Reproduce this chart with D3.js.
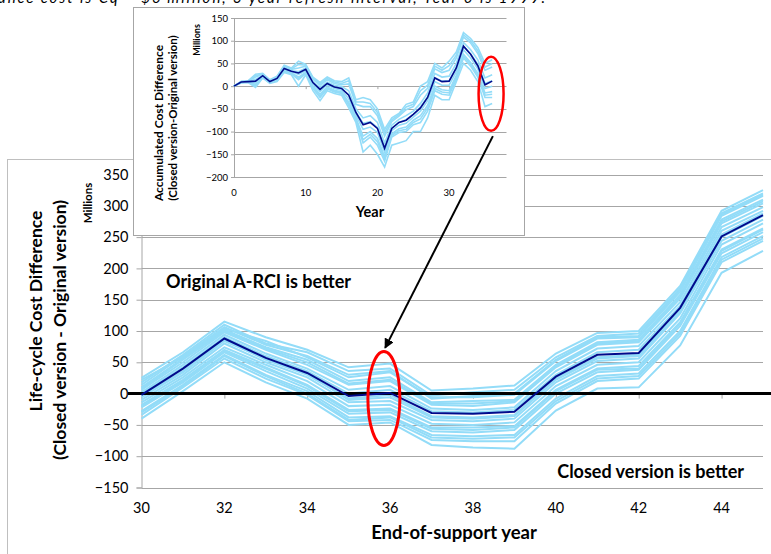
<!DOCTYPE html>
<html><head><meta charset="utf-8">
<script src="https://cdn.jsdelivr.net/npm/d3@7"></script>
<style>body{margin:0;background:#fff}svg{display:block}text{font-family:Lato,"Open Sans",sans-serif}</style>
</head><body>
<svg id="c" width="771" height="554"></svg>
<script>
// ---------- DATA ----------
const mainYears = d3.range(30, 46);
const mainTicksX = [30, 32, 34, 36, 38, 40, 42, 44];
const mainTicksY = [-150, -100, -50, 0, 50, 100, 150, 200, 250, 300, 350];
const mainMean = [-2, 40, 88, 57, 33, -4, 1, -31, -32, -29, 27, 62, 65, 137, 251, 285];
const mainSims = [
  [25, 66, 115, 90, 70, 42, 48, 5, 8, 13, 64, 97, 100, 172, 292, 325],
  [18, 62, 110, 80, 66, 36, 40, -3, 2, 6, 58, 92, 96, 168, 288, 320],
  [14, 60, 106, 78, 60, 30, 36, -8, -4, 0, 54, 90, 92, 166, 286, 318],
  [22, 58, 104, 84, 58, 26, 34, -6, -6, -2, 52, 88, 90, 163, 284, 316],
  [10, 56, 102, 74, 54, 20, 26, -14, -12, -10, 46, 82, 86, 158, 278, 310],
  [8, 54, 100, 72, 50, 16, 22, -16, -16, -12, 44, 80, 84, 155, 275, 307],
  [6, 50, 98, 70, 46, 14, 20, -18, -20, -14, 42, 78, 82, 152, 272, 304],
  [2, 46, 94, 64, 40, 6, 12, -24, -26, -22, 36, 72, 76, 146, 266, 298],
  [0, 42, 90, 60, 36, 0, 6, -28, -30, -26, 30, 66, 70, 140, 260, 292],
  [-4, 36, 86, 54, 30, -8, -2, -36, -38, -34, 24, 58, 62, 134, 254, 288],
  [-6, 34, 84, 56, 32, -10, -6, -38, -40, -36, 22, 56, 60, 130, 250, 284],
  [-10, 30, 80, 50, 26, -14, -12, -42, -44, -40, 18, 52, 56, 128, 244, 278],
  [-14, 26, 74, 46, 20, -20, -18, -48, -50, -46, 12, 46, 50, 120, 238, 272],
  [-18, 22, 70, 42, 14, -26, -24, -54, -54, -52, 6, 40, 44, 114, 230, 264],
  [-20, 20, 68, 40, 12, -28, -26, -56, -58, -54, 4, 38, 40, 112, 228, 262],
  [-22, 18, 66, 36, 8, -32, -30, -60, -62, -58, 0, 34, 38, 108, 224, 258],
  [-28, 14, 62, 30, 4, -38, -36, -66, -68, -66, -8, 28, 32, 100, 218, 252],
  [-30, 12, 60, 28, 0, -42, -38, -70, -72, -70, -12, 24, 28, 96, 214, 248],
  [-34, 10, 56, 24, -2, -44, -42, -74, -76, -76, -16, 20, 24, 92, 210, 244],
  [-40, 4, 50, 18, -8, -50, -46, -82, -86, -88, -27, 8, 10, 77, 193, 228]
];
const insetYears = d3.range(0, 37);
const insetTicksX = [0, 10, 20, 30];
const insetTicksY = [-200, -150, -100, -50, 0, 50, 100, 150];
const insetMean = [0, 9, 10, 11, 23, 10, 17, 39, 33, 29, 37, 8, -7, 6, -2, -5, -20, -58, -85, -80, -93, -137, -93, -80, -75, -62, -48, -25, 18, 10, 11, 40, 88, 70, 45, 3, 11];
const insetSims = [
  [0, 10, 12, 26, 28, 14, 22, 46, 40, 55, 48, 20, 8, 20, 12, 10, 18, -30, -25, -30, -50, -95, -70, -60, -40, -35, 0, 10, 50, 40, 55, 75, 118, 105, 85, 50, 58],
  [0, 10, 11, 23, 27, 13, 21, 44, 38, 48, 46, 18, 5, 17, 9, 6, 12, -35, -35, -38, -58, -102, -74, -63, -46, -40, -10, 2, 44, 35, 45, 68, 113, 100, 78, 42, 50],
  [0, 10, 11, 20, 26, 12, 20, 43, 37, 40, 44, 15, 2, 14, 6, 3, 5, -40, -45, -45, -65, -110, -78, -66, -52, -45, -20, -5, 38, 30, 35, 62, 108, 95, 72, 35, 42],
  [0, 9, 10, 15, 24, 11, 18, 40, 34, 32, 40, 10, -3, 9, 2, -1, -10, -50, -70, -65, -80, -125, -86, -73, -65, -55, -38, -15, 28, 20, 22, 50, 96, 80, 58, 18, 25],
  [0, 9, 10, 12, 23, 10, 17, 39, 33, 29, 37, 7, -8, 6, -2, -5, -19, -57, -82, -78, -91, -135, -92, -80, -74, -62, -46, -24, 19, 11, 12, 41, 88, 71, 48, 6, 12],
  [0, 9, 10, 8, 22, 9, 16, 38, 32, 26, 34, 5, -12, 3, -5, -9, -28, -64, -95, -90, -102, -145, -98, -86, -82, -68, -55, -32, 10, 2, 2, 32, 80, 62, 38, -5, 0],
  [0, 8, 9, 4, 20, 8, 14, 35, 29, 20, 30, 0, -18, -2, -9, -13, -36, -70, -110, -100, -115, -155, -105, -94, -90, -75, -65, -42, 0, -8, -10, 24, 70, 52, 28, -15, -12],
  [0, 8, 9, 2, 20, 8, 13, 34, 28, 17, 29, -2, -22, -4, -11, -15, -39, -72, -118, -106, -122, -160, -108, -98, -95, -80, -72, -48, -5, -13, -15, 20, 66, 48, 24, -20, -18],
  [0, 8, 8, 0, 19, 7, 12, 33, 27, 14, 28, -5, -25, -6, -13, -16, -42, -75, -125, -112, -130, -165, -112, -102, -100, -85, -80, -55, -10, -18, -20, 15, 62, 44, 20, -25, -25],
  [0, 7, 8, -3, 18, 6, 10, 30, 25, 0, 25, -10, -32, -10, -16, -20, -48, -80, -145, -130, -150, -178, -130, -125, -120, -100, -100, -70, -20, -30, -30, 10, 50, 35, 10, -45, -38]
];
const caption = "ance cost is Cq = $6 million, 3 year refresh interval, Year 0 is 1999.";

// ---------- STYLE ----------
const simColor = "#93dcf8", meanColor = "#000b8c", gridColor = "#a6a6a6";
const svg = d3.select("#c");

// caption (cut off at top, as in the reference)
svg.append("text").attr("x", -2).attr("y", 3).attr("font-family", "'Liberation Serif',serif")
  .attr("font-style", "italic").attr("font-size", 15).attr("textLength", 547).attr("lengthAdjust", "spacing")
  .text(caption);

// ---------- MAIN CHART ----------
svg.append("rect").attr("x", 7.5).attr("y", 159.5).attr("width", 800).attr("height", 500)
  .attr("fill", "#fff").attr("stroke", "#bfbfbf");

const x = d3.scaleLinear().domain([30, 45]).range([141.5, 763]);
const y = d3.scaleLinear().domain([-150, 350]).range([487.5, 174.5]);
const gM = svg.append("g");

gM.append("g").selectAll("line").data(mainTicksY).join("line")
  .attr("x1", x(30)).attr("x2", x(45)).attr("y1", d => Math.round(y(d)) + 0.5).attr("y2", d => Math.round(y(d)) + 0.5)
  .attr("stroke", gridColor);
const yAx = gM.append("g").attr("transform", `translate(${x(30)},0)`)
  .call(d3.axisLeft(y).tickValues(mainTicksY).tickSize(5).tickPadding(8));
yAx.select(".domain").attr("stroke", gridColor);
yAx.selectAll(".tick line").attr("stroke", gridColor);
yAx.selectAll("text").attr("font-size", 14.5).attr("fill", "#000").attr("font-family", "Lato");
const xAx = gM.append("g").attr("transform", `translate(0,${y(0)})`)
  .call(d3.axisBottom(x).tickValues(mainTicksX).tickSize(5).tickFormat(""));
xAx.select(".domain").remove();
xAx.selectAll(".tick line").attr("stroke", gridColor);
gM.append("g").selectAll("text").data(mainTicksX).join("text")
  .attr("x", d => x(d)).attr("y", y(-150) + 25).attr("text-anchor", "middle")
  .attr("font-size", 14.5).text(d => d);

const lineM = d3.line().x((d, i) => x(mainYears[i])).y(d => y(d));
gM.append("g").selectAll("path").data(mainSims).join("path")
  .attr("d", lineM).attr("fill", "none").attr("stroke", simColor).attr("stroke-width", 2);
gM.append("line").attr("x1", 128).attr("x2", 771).attr("y1", y(0)).attr("y2", y(0))
  .attr("stroke", "#000").attr("stroke-width", 3);
gM.append("path").datum(mainMean).attr("d", lineM).attr("fill", "none")
  .attr("stroke", meanColor).attr("stroke-width", 2);

gM.append("text").attr("transform", `translate(42,${(y(-150)+y(350))/2 - 20}) rotate(-90)`)
  .attr("text-anchor", "middle").attr("font-weight", "bold").attr("font-size", 17.5).text("Life-cycle Cost Difference");
gM.append("text").attr("transform", `translate(66,${(y(-150)+y(350))/2 - 1}) rotate(-90)`)
  .attr("text-anchor", "middle").attr("font-weight", "bold").attr("font-size", 17.5).text("(Closed version - Original version)");
gM.append("text").attr("transform", `translate(92,203) rotate(-90)`)
  .attr("text-anchor", "middle").attr("font-weight", "bold").attr("font-size", 11.5).text("Millions");
gM.append("text").attr("x", 454).attr("y", 539).attr("text-anchor", "middle")
  .attr("font-weight", "bold").attr("font-size", 18.5).text("End-of-support year");
gM.append("text").attr("x", 166).attr("y", 288).attr("font-weight", "bold").attr("font-size", 18).text("Original A-RCI is better");
gM.append("text").attr("x", 744).attr("y", 478).attr("text-anchor", "end").attr("font-weight", "bold").attr("font-size", 18).text("Closed version is better");

gM.append("ellipse").attr("cx", x(35.85)).attr("cy", y(-8)).attr("rx", 16).attr("ry", 47)
  .attr("fill", "none").attr("stroke", "#ff0000").attr("stroke-width", 3);

// ---------- INSET ----------
const gI = svg.append("g");
gI.append("rect").attr("x", 133.5).attr("y", 7.5).attr("width", 391).attr("height", 228)
  .attr("fill", "#fff").attr("stroke", "#a6a6a6");
const xi = d3.scaleLinear().domain([0, 38]).range([234, 506.5]);
const yi = d3.scaleLinear().domain([-200, 150]).range([177, 18]);
gI.append("g").selectAll("line").data(insetTicksY).join("line")
  .attr("x1", xi(0)).attr("x2", xi(38)).attr("y1", d => Math.round(yi(d)) + 0.5).attr("y2", d => Math.round(yi(d)) + 0.5)
  .attr("stroke", gridColor);
const yAxI = gI.append("g").attr("transform", `translate(${xi(0)},0)`)
  .call(d3.axisLeft(yi).tickValues(insetTicksY).tickSize(3).tickPadding(3));
yAxI.select(".domain").attr("stroke", gridColor);
yAxI.selectAll(".tick line").attr("stroke", gridColor);
yAxI.selectAll("text").attr("font-size", 9.5).attr("fill", "#000").attr("font-family", "Lato");
const xAxI = gI.append("g").attr("transform", `translate(0,${yi(0)})`)
  .call(d3.axisBottom(xi).tickValues(insetTicksX).tickSize(3).tickFormat(""));
xAxI.select(".domain").remove();
xAxI.selectAll(".tick line").attr("stroke", gridColor);
gI.append("g").selectAll("text").data(insetTicksX).join("text")
  .attr("x", d => xi(d)).attr("y", yi(-200) + 19).attr("text-anchor", "middle")
  .attr("font-size", 9.5).text(d => d);

const lineI = d3.line().x((d, i) => xi(insetYears[i])).y(d => yi(d));
gI.append("g").selectAll("path").data(insetSims).join("path")
  .attr("d", lineI).attr("fill", "none").attr("stroke", simColor).attr("stroke-width", 1.6);
gI.append("path").datum(insetMean).attr("d", lineI).attr("fill", "none")
  .attr("stroke", meanColor).attr("stroke-width", 1.6);

gI.append("text").attr("transform", `translate(163,123) rotate(-90)`).attr("text-anchor", "middle")
  .attr("font-weight", "bold").attr("font-size", 12).text("Accumulated Cost Difference");
gI.append("text").attr("transform", `translate(177,118) rotate(-90)`).attr("text-anchor", "middle")
  .attr("font-weight", "bold").attr("font-size", 11.5).text("(Closed version-Original version)");
gI.append("text").attr("transform", `translate(200,40) rotate(-90)`).attr("text-anchor", "middle")
  .attr("font-weight", "bold").attr("font-size", 9).text("Millions");
gI.append("text").attr("x", 370).attr("y", 217).attr("text-anchor", "middle")
  .attr("font-weight", "bold").attr("font-size", 14.5).text("Year");
gI.append("ellipse").attr("cx", xi(35.85)).attr("cy", yi(-17)).attr("rx", 12.5).attr("ry", 37)
  .attr("fill", "none").attr("stroke", "#ff0000").attr("stroke-width", 2.5);

// ---------- ARROW ----------
const defs = svg.append("defs");
defs.append("marker").attr("id", "ah").attr("viewBox", "0 0 10 10").attr("refX", 9).attr("refY", 5)
  .attr("markerWidth", 5).attr("markerHeight", 5).attr("orient", "auto")
  .append("path").attr("d", "M0,0L10,5L0,10Z").attr("fill", "#000");
svg.append("line").attr("x1", xi(36.1)).attr("y1", yi(-110)).attr("x2", x(35.88)).attr("y2", y(73))
  .attr("stroke", "#000").attr("stroke-width", 2).attr("marker-end", "url(#ah)");
</script>
</body></html>
